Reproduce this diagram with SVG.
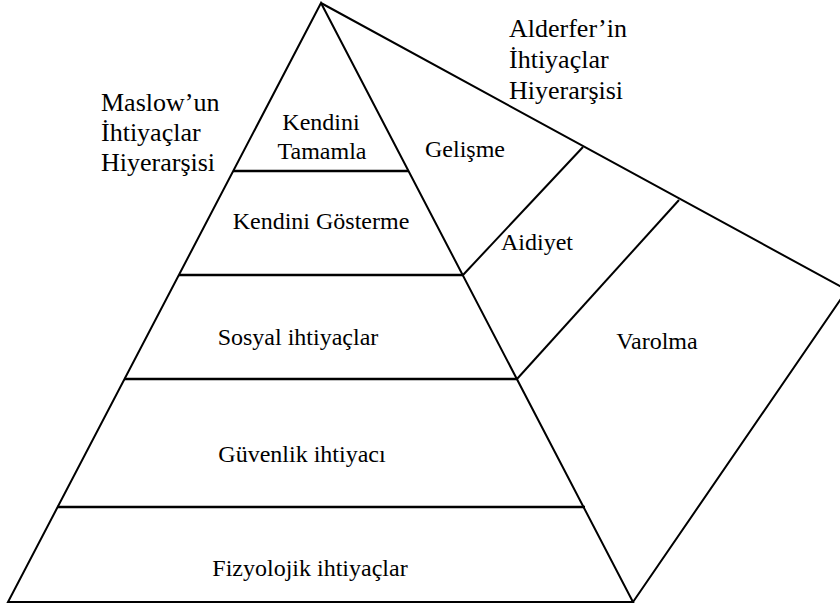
<svg xmlns="http://www.w3.org/2000/svg" width="840" height="606" viewBox="0 0 840 606">
  <style>
    .edge { fill: none; stroke: #000; stroke-width: 2; stroke-linejoin: miter; stroke-linecap: butt; }
    .tier { stroke: #000; stroke-width: 2.5; }
    .title { font-family: "Liberation Serif", "Times New Roman", serif; font-size: 26px; fill: #000; }
    .lbl { font-family: "Liberation Serif", "Times New Roman", serif; font-size: 24px; fill: #000; text-anchor: middle; }
  </style>
  <rect width="840" height="606" fill="#fff"/>

  <g id="connectors">
    <polyline class="edge" points="321,3 847,290 633,602"/>
    <line class="edge" x1="463" y1="275" x2="583" y2="147"/>
    <line class="edge" x1="517" y1="379" x2="679" y2="200"/>
    <polygon class="edge" points="321,3 8,602 633,602"/>
    <line class="tier" x1="233" y1="171" x2="408" y2="171"/>
    <line class="tier" x1="179" y1="275" x2="463" y2="275"/>
    <line class="tier" x1="124" y1="379" x2="517" y2="379"/>
    <line class="tier" x1="57" y1="507" x2="585" y2="507"/>
  </g>

  <g id="maslow-title">
    <text class="title" x="101" y="111">Maslow’un</text>
    <text class="title" x="101" y="141">İhtiyaçlar</text>
    <text class="title" x="101" y="171">Hiyerarşisi</text>
  </g>
  <g id="alderfer-title">
    <text class="title" x="509" y="37">Alderfer’in</text>
    <text class="title" x="509" y="68">İhtiyaçlar</text>
    <text class="title" x="509" y="99">Hiyerarşisi</text>
  </g>

  <g id="kendini-tamamla">
    <text class="lbl" x="321" y="130">Kendini</text>
    <text class="lbl" x="322" y="159">Tamamla</text>
  </g>
  <g id="kendini-gosterme"><text class="lbl" x="321" y="229">Kendini Gösterme</text></g>
  <g id="sosyal"><text class="lbl" x="298" y="345">Sosyal ihtiyaçlar</text></g>
  <g id="guvenlik"><text class="lbl" x="302" y="462">Güvenlik ihtiyacı</text></g>
  <g id="fizyolojik"><text class="lbl" x="310" y="576">Fizyolojik ihtiyaçlar</text></g>

  <g id="gelisme"><text class="lbl" x="465" y="157">Gelişme</text></g>
  <g id="aidiyet"><text class="lbl" x="537" y="250">Aidiyet</text></g>
  <g id="varolma"><text class="lbl" x="657" y="349">Varolma</text></g>
</svg>
